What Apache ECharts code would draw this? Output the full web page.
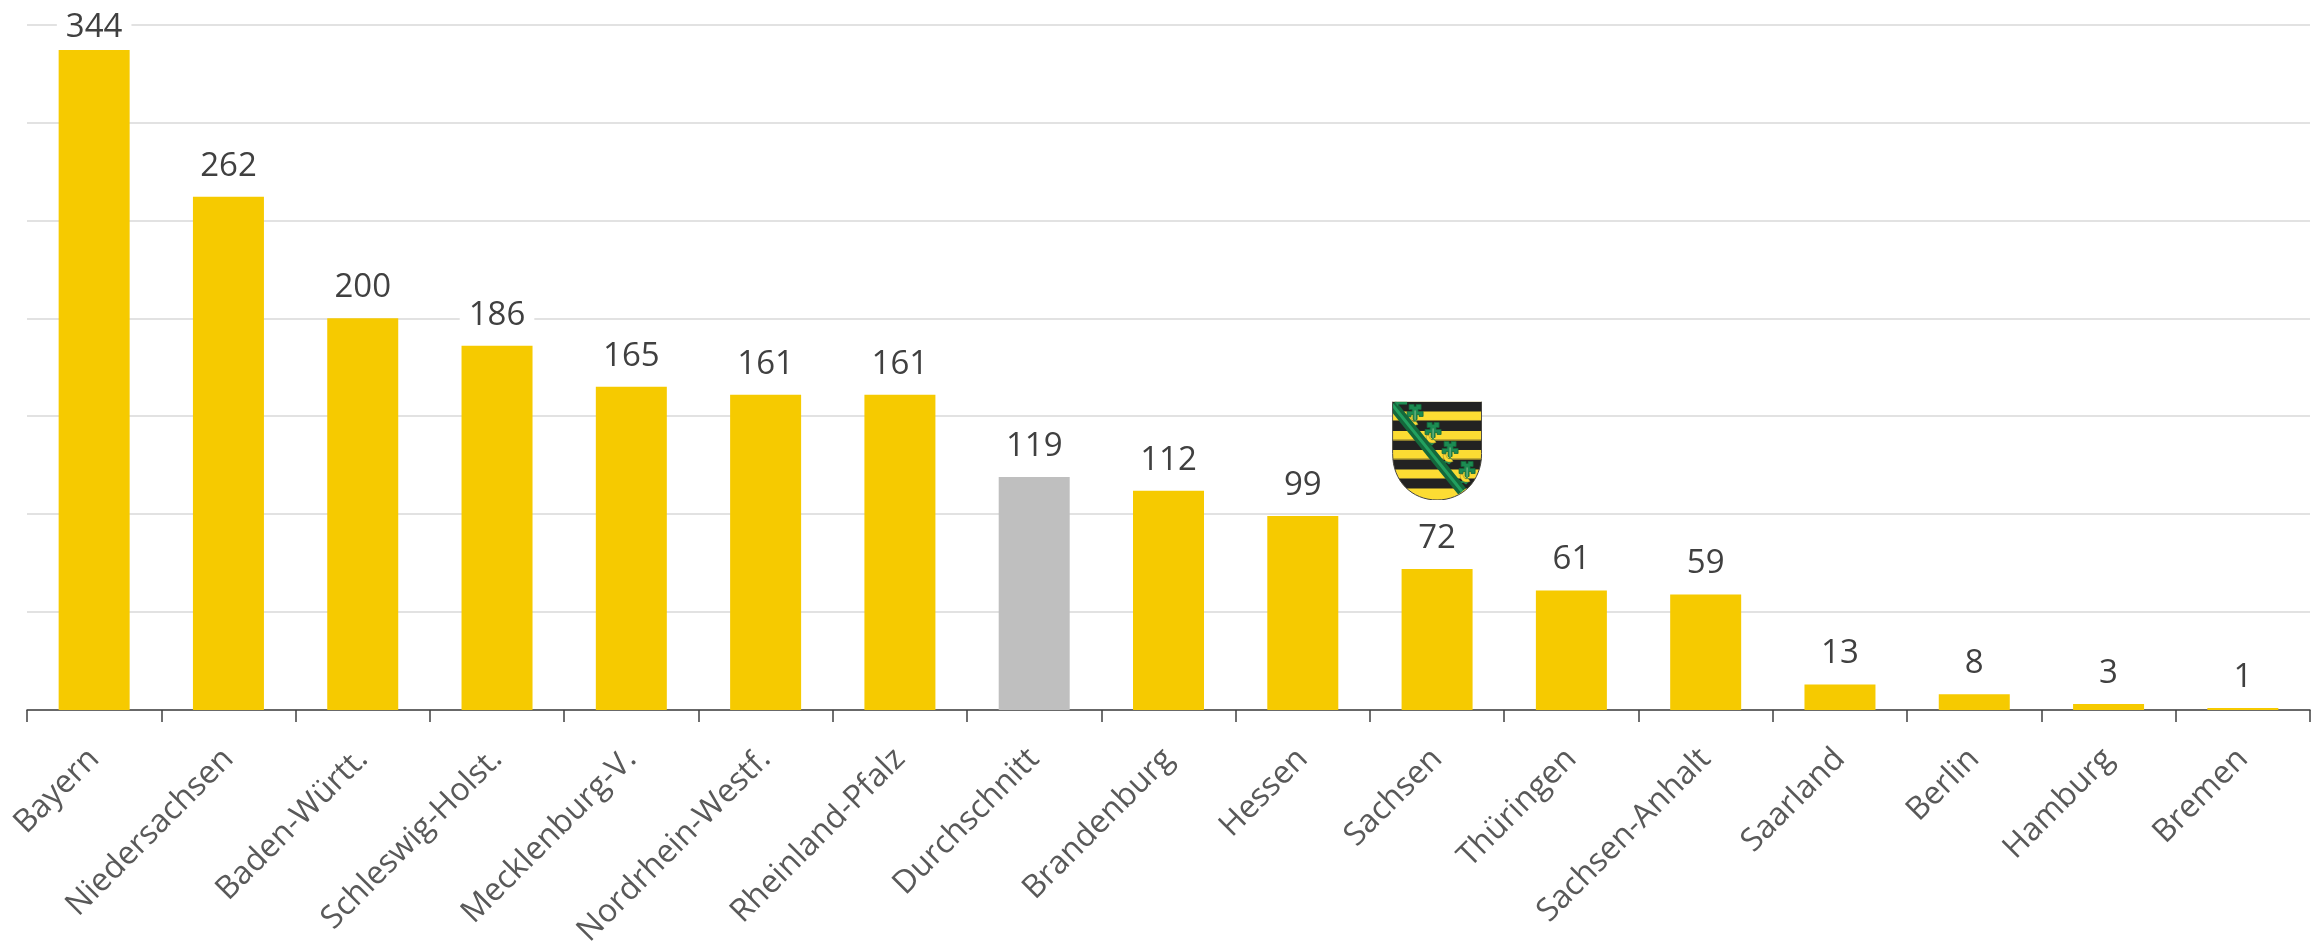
<!DOCTYPE html>
<html><head><meta charset="utf-8">
<style>html,body{margin:0;padding:0;background:#fff}#c{width:2320px;height:946px}</style>
<script src="https://cdn.jsdelivr.net/npm/echarts@6/dist/echarts.min.js"></script>
</head><body><div id="c"></div>
<script>
const categories = ['Bayern','Niedersachsen','Baden-Württ.','Schleswig-Holst.','Mecklenburg-V.','Nordrhein-Westf.','Rheinland-Pfalz','Durchschnitt','Brandenburg','Hessen','Sachsen','Thüringen','Sachsen-Anhalt','Saarland','Berlin','Hamburg','Bremen'];
// Drawn bar heights as read against the gridlines (the Bayern bar is drawn shorter than its printed 344)
const barValues = [337,262,200,186,165,161,161,119,112,99,72,61,59,13,8,3,1];
const valueLabels = ['344','262','200','186','165','161','161','119','112','99','72','61','59','13','8','3','1'];
const averageCategory = 'Durchschnitt';
const crestCategory = 'Sachsen';

const crestSvg = `<svg xmlns="http://www.w3.org/2000/svg" viewBox="0 0 90 99" width="90" height="99">
<defs><clipPath id="s"><path d="M0.5 0H89.5V52C89.5 80 70 98.5 45 98.5S0.5 80 .5 52Z"/></clipPath>
<g id="k">
<path d="M0 0H5V2H7V0H12V5H9V7H14V12H10V10H8V15H4V10H2V12H-2V7H3V5H0Z" fill="#1c8c52" stroke="#14683c" stroke-width=".8"/>
<path d="M6 6V18" stroke="#a8c9a0" stroke-width=".8"/>
<path d="M6 15L0 20L-2 18L-6 21L-3 24L2 21L5 23L9 19Z" fill="#1c8c52"/>
<path d="M-1 13C-1 19 3 22 9 20L7 17C4 18 2 16 2 13Z" fill="#fcdc33" stroke="#8a7a30" stroke-width=".5"/>
</g></defs>
<g clip-path="url(#s)">
<rect width="90" height="99" fill="#fcdc33"/>
<g fill="#222"><rect y="0" width="90" height="10"/><rect y="19.5" width="90" height="10"/><rect y="39" width="90" height="9.5"/><rect y="58" width="90" height="10"/><rect y="77.5" width="90" height="9.5"/></g>
<g fill="#8a7a30"><rect y="18.5" width="90" height="1"/><rect y="38" width="90" height="1"/><rect y="57" width="90" height="1"/><rect y="76.5" width="90" height="1"/></g>
<use href="#k" x="17" y="3"/><use href="#k" x="35" y="21"/><use href="#k" x="52" y="40"/><use href="#k" x="69" y="60"/>
<path d="M0 3L70 90" stroke="#14683c" stroke-width="10" fill="none"/>
<path d="M0 3L70 90" stroke="#22a05f" stroke-width="3" fill="none"/>
<path d="M2 0H15V3H6V5Z" fill="#1c8c52"/>
</g>
<path d="M0.5 0V52C.5 80 20 98.5 45 98.5S89.5 80 89.5 52V0" fill="none" stroke="#444" stroke-width="1"/>
</svg>`;
const crestImage = 'image://data:image/svg+xml;charset=utf-8,' + encodeURIComponent(crestSvg);

const font = '"Open Sans"';
const chart = echarts.init(document.getElementById('c'), null, {renderer:'canvas'});
chart.setOption({
  animation:false,
  backgroundColor:'#fff',
  grid:{left:27,right:10,top:24.5,bottom:236,containLabel:false,outerBoundsMode:'none'},
  xAxis:{type:'category',data:categories,
    axisLine:{lineStyle:{color:'#404040',width:1.5}},
    axisTick:{show:true,alignWithLabel:false,length:12,lineStyle:{color:'#404040',width:1.5}},
    axisLabel:{rotate:45,interval:0,margin:44,lineHeight:44,fontFamily:font,fontSize:32,color:'#595959'}
  },
  yAxis:{type:'value',min:0,max:350,interval:50,
    axisLine:{show:false},axisTick:{show:false},axisLabel:{show:false},
    splitLine:{lineStyle:{color:'#d9d9d9',width:1.5}}
  },
  series:[{type:'bar',barWidth:71,
    data:barValues.map((v,i)=>({value:v,
      itemStyle:{color:categories[i]===averageCategory?'#bfbfbf':'#f6ca00'},
      label:{formatter:valueLabels[i],distance:i===0?4:12}})),
    label:{show:true,position:'top',fontFamily:font,fontSize:33,color:'#404040',backgroundColor:'#fff',padding:[2,9,2,9]},
    markPoint:{silent:true,symbol:crestImage,symbolSize:[90,99],symbolOffset:[0,-118],
      label:{show:false},
      data:[{coord:[crestCategory,barValues[categories.indexOf(crestCategory)]]}]}
  }]
});
</script></body></html>
